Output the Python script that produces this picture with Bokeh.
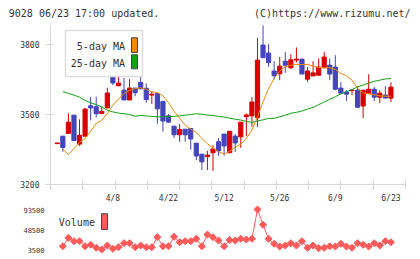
import numpy as np
from bokeh.plotting import figure
from bokeh.layouts import column
from bokeh.models import Range1d, FixedTicker, Label, BoxAnnotation
from bokeh.embed import file_html
from bokeh.resources import INLINE

# ---- data ----
open_ = [3375, 3407, 3419, 3497, 3373, 3407, 3537, 3533, 3504, 3528,
         3665, 3623, 3604, 3562, 3613, 3637, 3612, 3583, 3590, 3556,
         3494, 3450, 3413, 3437, 3440, 3377, 3330, 3319, 3336, 3383,
         3416, 3336, 3407, 3404, 3491, 3494, 3486, 3797, 3763, 3686,
         3674, 3728, 3700, 3733, 3737, 3651, 3665, 3668, 3700, 3711,
         3703, 3613, 3596, 3602, 3604, 3536, 3591, 3608, 3574, 3583, 3570]
high = [3378, 3407, 3505, 3497, 3479, 3528, 3575, 3576, 3535, 3614,
        3665, 3664, 3656, 3651, 3613, 3680, 3633, 3600, 3590, 3556,
        3502, 3450, 3459, 3437, 3440, 3377, 3330, 3344, 3368, 3399,
        3416, 3428, 3417, 3467, 3504, 3574, 3828, 3883, 3801, 3728,
        3746, 3768, 3758, 3787, 3737, 3703, 3728, 3740, 3767, 3740,
        3754, 3638, 3604, 3605, 3621, 3604, 3672, 3618, 3604, 3621, 3638]
low = [3375, 3340, 3419, 3388, 3366, 3407, 3475, 3487, 3504, 3528,
       3626, 3623, 3562, 3562, 3578, 3607, 3550, 3545, 3460, 3426,
       3467, 3399, 3383, 3383, 3349, 3304, 3262, 3262, 3258, 3323,
       3323, 3336, 3340, 3357, 3407, 3447, 3447, 3743, 3704, 3650,
       3647, 3678, 3695, 3723, 3673, 3640, 3665, 3668, 3700, 3647,
       3604, 3591, 3557, 3583, 3527, 3484, 3591, 3557, 3548, 3570, 3553]
close = [3378, 3359, 3467, 3388, 3411, 3523, 3528, 3503, 3513, 3592,
         3635, 3634, 3562, 3613, 3593, 3610, 3564, 3587, 3524, 3472,
         3467, 3413, 3436, 3413, 3395, 3322, 3297, 3326, 3352, 3344,
         3365, 3428, 3378, 3467, 3498, 3553, 3733, 3743, 3722, 3666,
         3707, 3711, 3734, 3737, 3673, 3686, 3678, 3703, 3746, 3673,
         3608, 3591, 3587, 3605, 3531, 3604, 3608, 3574, 3591, 3570, 3617]
# series from day index 1 onward
volume = [10900, 29800, 22200, 22200, 10900, 14100, 7300, 3500, 12500, 5100,
          8700, 17700, 17700, 8700, 12500, 8700, 8700, 31200, 10900, 10900,
          32100, 19900, 22200, 22200, 27600, 10900, 37200, 31200, 23700, 10900,
          24800, 23700, 27600, 26000, 27600, 93500, 59000, 27600, 16300, 10250,
          12500, 17700, 12500, 22200, 7300, 12500, 6400, 7300, 10900, 10250,
          16300, 10250, 7300, 17700, 14100, 10250, 17700, 12500, 22200, 19900]
ma5 = [3351, 3329, 3354, 3380, 3397, 3428, 3461, 3476, 3504, 3540,
       3566, 3590, 3603, 3611, 3614, 3608, 3597, 3594, 3580, 3551,
       3514, 3483, 3454, 3437, 3423, 3397, 3375, 3356, 3341, 3330,
       3343, 3360, 3373, 3397, 3433, 3490, 3554, 3611, 3654, 3686,
       3704, 3711, 3714, 3714, 3714, 3708, 3701, 3700, 3700, 3693,
       3676, 3665, 3647, 3612, 3593, 3588, 3584, 3580, 3578, 3578]
ma25 = [3598, 3590, 3583, 3574, 3560, 3550, 3542, 3532, 3518, 3511,
        3506, 3503, 3500, 3492, 3496, 3494, 3491, 3490, 3490, 3490,
        3492, 3494, 3497, 3500, 3503, 3501, 3497, 3496, 3491, 3489,
        3484, 3480, 3476, 3470, 3466, 3472, 3477, 3483, 3483, 3490,
        3497, 3505, 3509, 3515, 3523, 3530, 3542, 3553, 3565, 3576,
        3588, 3597, 3607, 3618, 3626, 3634, 3642, 3647, 3652, 3654]
date_ticks = [10, 20, 30, 40, 50, 60]
date_labels = ["4/8", "4/22", "5/12", "5/26", "6/9", "6/23"]
price_ticks = [3200, 3500, 3800]
volume_ticks = [3500, 48500, 93500]

# ---- styling ----
FONT = "DejaVu Sans Mono"
TXT = "#333333"
AX = "#d6d6d6"
UP = "#d80000"
DOWN = "#4444bb"
ORANGE = "#f08a00"
GREEN = "#13a313"
VOLC = "#ff5a5a"

n = len(open_)
idx = list(range(n))
idx_v = list(range(1, n))
X0, X1 = -1.22, 62.62

colors = [UP if c >= o else DOWN for o, c in zip(open_, close)]
body_top = [max(o, c) for o, c in zip(open_, close)]
body_bot = [min(o, c) for o, c in zip(open_, close)]


def lab(fig, x, y, text, size="10px", align="left", x_units="screen"):
    fig.add_layout(Label(x=x, y=y, x_units=x_units, y_units="screen", text=text,
                         text_font=FONT, text_font_size=size, text_color=TXT,
                         text_align=align, text_baseline="middle"))


def box(fig, l, r, t, b, fill, line, lw=1):
    fig.add_layout(BoxAnnotation(left=l, right=r, top=t, bottom=b,
                                 left_units="screen", right_units="screen",
                                 top_units="screen", bottom_units="screen",
                                 fill_color=fill, fill_alpha=1, line_color=line,
                                 line_width=lw, line_alpha=1))


def bare(fig):
    fig.outline_line_color = None
    fig.grid.visible = False
    fig.background_fill_color = "white"
    fig.border_fill_color = "white"


# ---- header strip (its frame spans the full width) ----
ph = figure(width=420, height=25, x_range=Range1d(0, 1), y_range=Range1d(0, 1),
            output_backend="svg", toolbar_location=None,
            x_axis_location=None, y_axis_location=None,
            min_border_left=0, min_border_right=0, min_border_top=0, min_border_bottom=0)
ph.frame_align = False
bare(ph)
lab(ph, 8.3, 12, "9028 06/23 17:00 updated.")
lab(ph, 410, 12, "(C)https://www.rizumu.net/", align="right")

# ---- price panel ----
p = figure(width=420, height=164, x_range=Range1d(X0, X1), y_range=Range1d(3200, 3881),
           output_backend="svg", toolbar_location=None,
           min_border_left=50, min_border_right=15, min_border_top=0, min_border_bottom=5)
bare(p)

p.segment(x0=idx, y0=low, x1=idx, y1=high, color=colors, line_width=1)
p.vbar(x=idx, width=0.75, top=body_top, bottom=body_bot,
       fill_color=colors, line_color=colors, line_width=1)
p.line(idx_v, ma25, color=GREEN, line_width=1)
p.line(idx_v, ma5, color=ORANGE, line_width=1)

xa = p.xaxis[0]
xa.ticker = FixedTicker(ticks=[], minor_ticks=list(np.linspace(X0, X1, 12)))
xa.axis_line_color = AX
xa.major_tick_line_color = None
xa.major_tick_in = 0
xa.major_tick_out = 0
xa.minor_tick_line_color = AX
xa.minor_tick_in = 4
xa.minor_tick_out = 5
xa.major_label_standoff = 0
xa.major_label_text_font_size = "0px"

ya = p.yaxis[0]
ya.ticker = FixedTicker(ticks=price_ticks)
ya.axis_line_color = AX
ya.major_tick_line_color = AX
ya.major_tick_in = 3
ya.major_tick_out = 5
ya.minor_tick_line_color = None
ya.major_label_standoff = 6
ya.major_label_text_font = FONT
ya.major_label_text_font_size = "8px"
ya.major_label_text_color = TXT

# MA legend (frame-relative screen units, frame bottom = canvas y 184)
box(p, 15, 92, 154, 108, "white", "#dddddd", 1.5)
lab(p, 74.5, 138.5, "5-day MA", align="right")
lab(p, 74.5, 120.7, "25-day MA", align="right")
box(p, 81, 87, 146.7, 132, ORANGE, "#444444")
box(p, 81, 87, 129.7, 115.7, GREEN, "#444444")

# ---- volume panel (canvas y 189..259) ----
pv = figure(width=420, height=70, x_range=p.x_range, y_range=Range1d(-19000, 138500),
            output_backend="svg", toolbar_location=None, x_axis_location=None,
            min_border_left=50, min_border_right=15, min_border_top=0, min_border_bottom=0)
bare(pv)
pv.line(idx_v, volume, color=VOLC, line_width=1)
pv.scatter(idx_v, volume, marker="square", angle=np.pi / 4, size=5, color=VOLC)

va = pv.yaxis[0]
va.ticker = FixedTicker(ticks=volume_ticks)
va.axis_line_color = None
va.major_tick_line_color = None
va.minor_tick_line_color = None
va.major_tick_in = 0
va.major_tick_out = 0
va.major_label_standoff = 6
va.major_label_text_font = FONT
va.major_label_text_font_size = "7px"
va.major_label_text_color = TXT

# date labels of the shared day axis
for t, l in zip(date_ticks, date_labels):
    lab(pv, t, 61, l, size="8px", align="center", x_units="data")

lab(pv, 8.3, 36.7, "Volume")
box(pv, 51, 57, 45.7, 30, VOLC, "#444444")

layout = column(ph, p, pv, spacing=0)
open("out.html", "w").write(file_html(layout, INLINE))
